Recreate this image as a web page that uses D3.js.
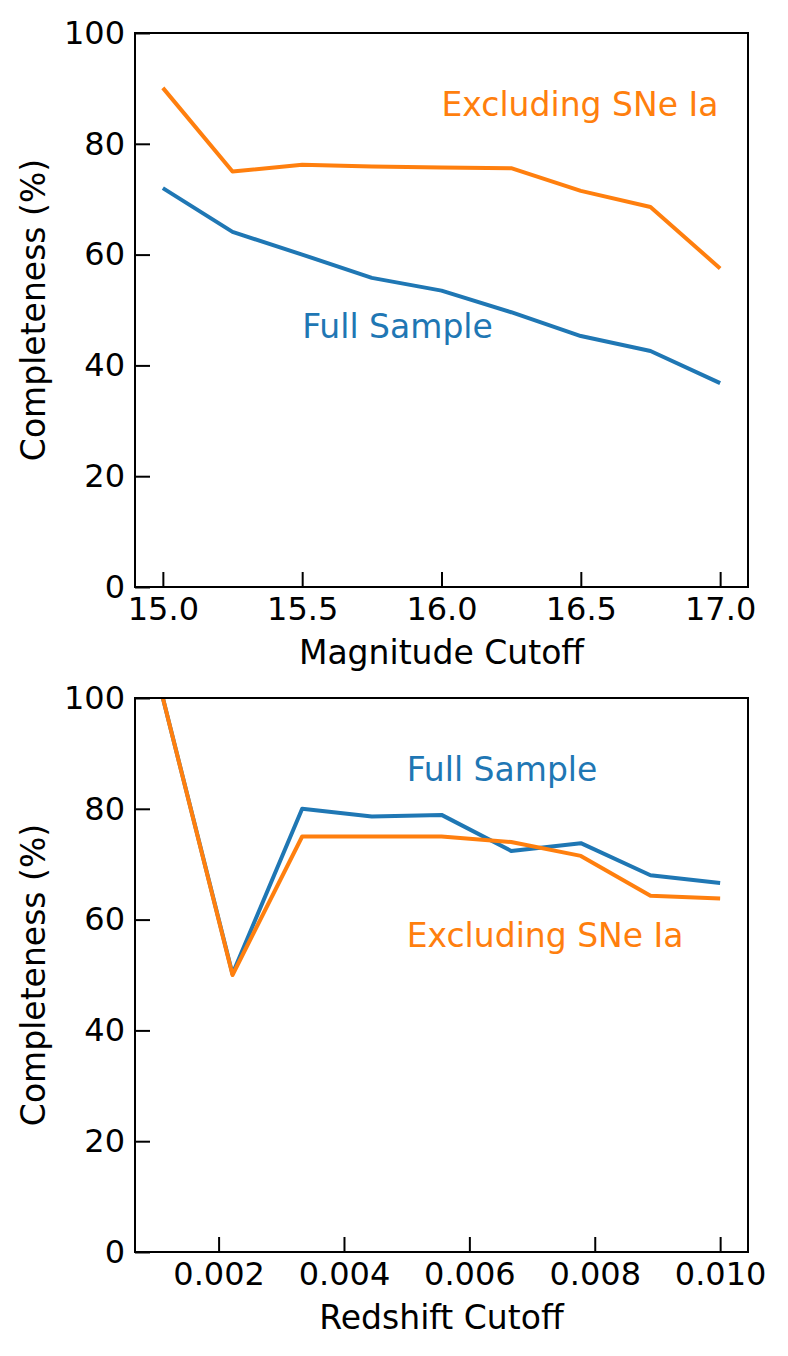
<!DOCTYPE html>
<html>
<head>
<meta charset="utf-8">
<script src="https://d3js.org/d3.v7.min.js"></script>
<style>
  body { margin: 0; background: #ffffff; }
  svg { display: block; font-family: "DejaVu Sans", sans-serif; }
</style>
</head>
<body>
<svg id="chart"></svg>
<script>

const width = 788;
const height = 1356;

// Top panel: completeness against magnitude cutoff
const magCutoffs = [15.0, 15.25, 15.5, 15.75, 16.0, 16.25, 16.5, 16.75, 17.0];
const magFull = [72.0, 64.1, 60.0, 55.8, 53.5, 49.6, 45.3, 42.6, 36.8];
const magNoIa = [90.1, 75.0, 76.2, 75.9, 75.7, 75.6, 71.5, 68.6, 57.5];

// Bottom panel: completeness against redshift cutoff
const zCutoffs = [0.001111, 0.002222, 0.003333, 0.004444, 0.005556, 0.006667, 0.007778, 0.008889, 0.010];
const zFull = [100.0, 50.2, 80.0, 78.6, 78.9, 72.4, 73.8, 68.0, 66.6];
const zNoIa = [100.0, 50.0, 75.0, 75.0, 75.0, 74.0, 71.5, 64.3, 63.8];

const magTicks = [15.0, 15.5, 16.0, 16.5, 17.0];
const zTicks = [0.002, 0.004, 0.006, 0.008, 0.010];
const yTicks = [0, 20, 40, 60, 80, 100];

const seriesNames = ["Full Sample", "Excluding SNe Ia"];
const seriesColors = ["#1f77b4", "#ff7f0e"];

// Where the in-plot labels sit, in data units
const magLabelPos = [[15.5, 45], [16.0, 85]];
const zLabelPos = [[0.005, 85], [0.005, 55]];

const layout = {left: 135, right: 748, tickFont: 32, labelFont: 33, tickLen: 15, tickPad: 10,
    panels: [{top: 33, bottom: 587}, {top: 698, bottom: 1252}]};

const svg = d3.select("#chart")
    .attr("width", width)
    .attr("height", height);

// matplotlib style 5% margin on the x range
function paddedDomain(values)
{
    let lo = d3.min(values), hi = d3.max(values);
    let pad = (hi - lo) * 0.05;
    return [lo - pad, hi + pad];
}

function drawPanel(index, xValues, series, xTicks, xFormat, xLabel, labelPos)
{
    let box = layout.panels[index];

    let x = d3.scaleLinear()
        .domain(paddedDomain(xValues))
        .range([layout.left, layout.right]);

    let y = d3.scaleLinear()
        .domain([0, 100])
        .range([box.bottom, box.top]);

    let g = svg.append("g");

    // Clip the lines to the axes box
    let clipId = "clip" + index;
    g.append("clipPath")
        .attr("id", clipId)
        .append("rect")
        .attr("x", layout.left)
        .attr("y", box.top)
        .attr("width", layout.right - layout.left)
        .attr("height", box.bottom - box.top);

    let line = d3.line()
        .x((d, i) => x(xValues[i]))
        .y(d => y(d));

    series.forEach((values, s) =>
    {
        g.append("path")
            .attr("clip-path", "url(#" + clipId + ")")
            .attr("d", line(values))
            .style("fill", "none")
            .style("stroke", seriesColors[s])
            .style("stroke-width", 4)
            .style("stroke-linejoin", "round");
    });

    // Axes, ticks pointing inward
    let xAxis = d3.axisBottom(x)
        .tickValues(xTicks)
        .tickFormat(xFormat)
        .tickSizeInner(-layout.tickLen)
        .tickSizeOuter(0)
        .tickPadding(layout.tickPad);

    let yAxis = d3.axisLeft(y)
        .tickValues(yTicks)
        .tickFormat(d3.format("d"))
        .tickSizeInner(-layout.tickLen)
        .tickSizeOuter(0)
        .tickPadding(layout.tickPad);

    let gx = g.append("g")
        .attr("transform", "translate(0," + box.bottom + ")")
        .call(xAxis);

    let gy = g.append("g")
        .attr("transform", "translate(" + layout.left + ",0)")
        .call(yAxis);

    [gx, gy].forEach(a =>
    {
        a.select(".domain").remove();
        a.selectAll("line").style("stroke", "#000").style("stroke-width", 2);
        a.selectAll("text")
            .style("font-size", layout.tickFont + "px")
            .style("font-family", "DejaVu Sans")
            .style("fill", "#000");
    });

    // Frame
    g.append("rect")
        .attr("x", layout.left)
        .attr("y", box.top)
        .attr("width", layout.right - layout.left)
        .attr("height", box.bottom - box.top)
        .style("fill", "none")
        .style("stroke", "#000")
        .style("stroke-width", 2);

    // Series labels inside the plot
    labelPos.forEach((p, s) =>
    {
        g.append("text")
            .attr("x", x(p[0]))
            .attr("y", y(p[1]))
            .style("font-size", layout.labelFont + "px")
            .style("fill", seriesColors[s])
            .text(seriesNames[s]);
    });

    // Axis titles
    g.append("text")
        .attr("x", (layout.left + layout.right) / 2)
        .attr("y", box.bottom + 77)
        .attr("text-anchor", "middle")
        .style("font-size", layout.labelFont + "px")
        .text(xLabel);

    g.append("text")
        .attr("transform", "translate(45," + (box.top + box.bottom) / 2 + ") rotate(-90)")
        .attr("text-anchor", "middle")
        .style("font-size", layout.labelFont + "px")
        .text("Completeness (%)");
}

drawPanel(0, magCutoffs, [magFull, magNoIa], magTicks, d3.format(".1f"), "Magnitude Cutoff", magLabelPos);
drawPanel(1, zCutoffs, [zFull, zNoIa], zTicks, d3.format(".3f"), "Redshift Cutoff", zLabelPos);

</script>
</body>
</html>
